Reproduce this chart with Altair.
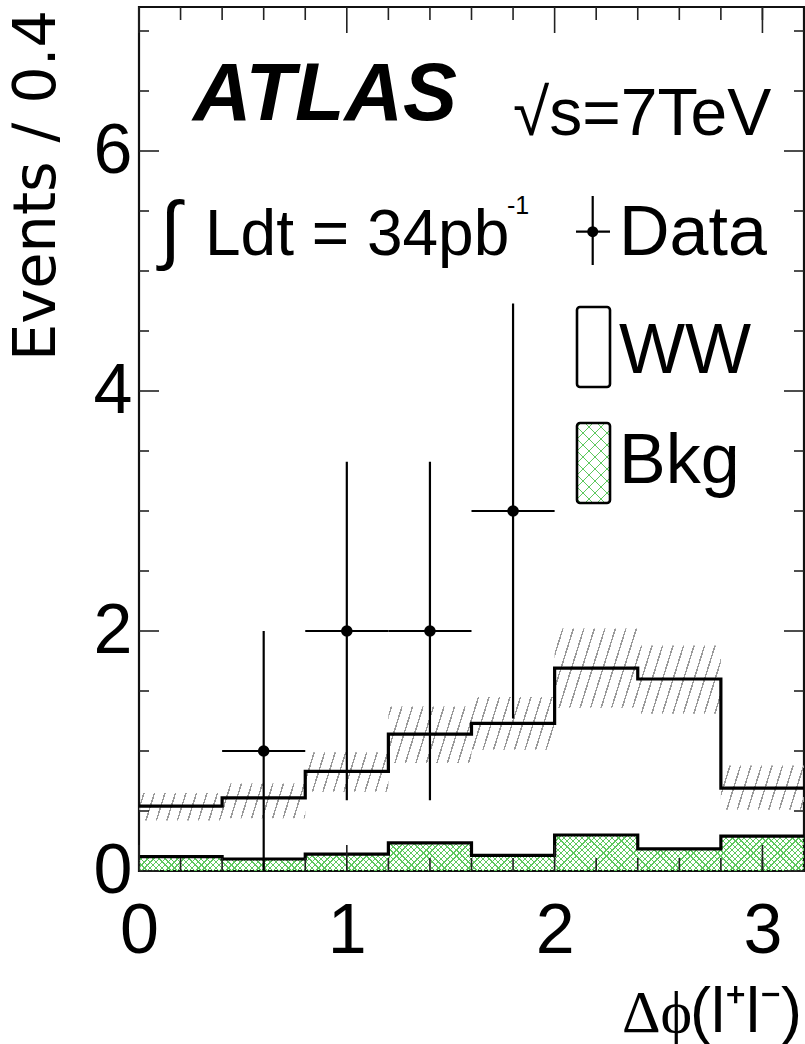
import math
import altair as alt
import pandas as pd

# ---------------- data ----------------
bin_edges = [0.0, 0.4, 0.8, 1.2, 1.6, 2.0, 2.4, 2.8, 3.2]
ww_total = [0.54, 0.61, 0.83, 1.14, 1.23, 1.69, 1.60, 0.69]   # WW + Bkg (stacked)
bkg = [0.12, 0.10, 0.14, 0.235, 0.13, 0.30, 0.185, 0.29]
band_lo = [0.42, 0.44, 0.66, 0.90, 1.01, 1.36, 1.31, 0.51]
band_hi = [0.65, 0.73, 0.99, 1.37, 1.45, 2.02, 1.88, 0.88]

data_x = [0.6, 1.0, 1.4, 1.8]
data_y = [1, 2, 2, 3]
data_err = [1.0, 1.41, 1.41, 1.73]
data_xerr = [0.2, 0.2, 0.2, 0.2]

x_major_ticks = [0, 1, 2, 3]
x_minor_ticks = [0.2, 0.4, 0.6, 0.8, 1.2, 1.4, 1.6, 1.8, 2.2, 2.4, 2.6, 2.8, 3.0]
y_major_ticks = [0, 2, 4, 6]
y_minor_ticks = [0.5, 1, 1.5, 2.5, 3, 3.5, 4.5, 5, 5.5, 6.5, 7]

X_DOMAIN = [0, 3.2]
Y_DOMAIN = [0, 7.2]

# ---------------- layout ----------------
W, H = 665, 864
PAD_L, PAD_T = 139, 7
XS = W / (X_DOMAIN[1] - X_DOMAIN[0])
YS = H / (Y_DOMAIN[1] - Y_DOMAIN[0])
FONT = "Liberation Sans, Arial, Helvetica, sans-serif"


def hatch_gradient(w, h, s, p, lw, color, flip=False, phase=0.3):
    """Stripe gradient in objectBoundingBox units giving lines of pixel slope s."""
    span = s * w + h
    n = span / (s * p)
    per = 1.0 / n
    frac = lw / p
    clear = "rgba(255,255,255,0)"
    stops = [alt.GradientStop(color=clear, offset=0)]
    i = 0
    while True:
        a = (phase + i) * per
        if a >= 1:
            break
        b = min(a + frac * per, 1.0)
        stops += [
            alt.GradientStop(color=clear, offset=round(a, 6)),
            alt.GradientStop(color=color, offset=round(a, 6)),
            alt.GradientStop(color=color, offset=round(b, 6)),
            alt.GradientStop(color=clear, offset=round(b, 6)),
        ]
        i += 1
    stops.append(alt.GradientStop(color=clear, offset=1))
    k = span / (s * s * w * w + h * h)
    gx, gy = k * s * w, k * h
    if flip:
        return alt.LinearGradient(gradient="linear", stops=stops, x1=0, y1=1, x2=gx, y2=1 - gy)
    return alt.LinearGradient(gradient="linear", stops=stops, x1=0, y1=0, x2=gx, y2=gy)


X_AX = alt.Axis(values=x_major_ticks, ticks=False, domain=False, grid=False, title=None,
                labelFontSize=70, labelFont=FONT, labelColor="black", labelPadding=26,
                labelFlush=False, labelOverlap=False)
Y_AX = alt.Axis(values=y_major_ticks, ticks=False, domain=False, grid=False, title=None,
                labelFontSize=70, labelFont=FONT, labelColor="black", labelPadding=7,
                labelOverlap=False)
XSC = alt.Scale(domain=X_DOMAIN, nice=False, zero=False)
YSC = alt.Scale(domain=Y_DOMAIN, nice=False, zero=False)


def X(f):
    return alt.X(f"{f}:Q", scale=XSC, axis=X_AX)


def Y(f):
    return alt.Y(f"{f}:Q", scale=YSC, axis=Y_AX)


step = pd.DataFrame({
    "x": bin_edges,
    "ww": ww_total + [ww_total[-1]],
    "bkg": bkg + [bkg[-1]],
    "lo": band_lo + [band_lo[-1]],
    "hi": band_hi + [band_hi[-1]],
    "zero": [0.0] * len(bin_edges),
})

pts = pd.DataFrame({"x": data_x, "y": data_y, "e": data_err, "xe": data_xerr})
pts["ylo"] = pts["y"] - pts["e"]
pts["yhi"] = pts["y"] + pts["e"]
pts["xlo"] = pts["x"] - pts["xe"]
pts["xhi"] = pts["x"] + pts["xe"]

base = alt.Chart(step)

# background crosshatch (two stripe families)
bkg_h = max(bkg) * YS
GREEN = "#5ec85e"
bkg_fill1 = base.mark_area(interpolate="step-after",
                           fill=hatch_gradient(W, bkg_h, 1.0, 6.0, 1.2, GREEN)).encode(
    x=X("x"), y=Y("bkg"), y2="zero")
bkg_fill2 = base.mark_area(interpolate="step-after",
                           fill=hatch_gradient(W, bkg_h, 1.0, 6.0, 1.2, GREEN, flip=True)).encode(
    x=X("x"), y=Y("bkg"), y2="zero")

# uncertainty band, grey "///" hatching
band_h = (max(band_hi) - min(band_lo)) * YS
band = base.mark_area(interpolate="step-after",
                      fill=hatch_gradient(W, band_h, 3.2, 10.5, 1.5, "#9a9a9a")).encode(
    x=X("x"), y=Y("hi"), y2="lo")

ww_line = base.mark_line(interpolate="step-after", color="black", strokeWidth=3.2).encode(
    x=X("x"), y=Y("ww"))
bkg_line = base.mark_line(interpolate="step-after", color="black", strokeWidth=3.2).encode(
    x=X("x"), y=Y("bkg"))

pch = alt.Chart(pts)
err_v = pch.mark_rule(color="black", strokeWidth=2.2).encode(x=X("x"), y=Y("ylo"), y2="yhi")
err_h = pch.mark_rule(color="black", strokeWidth=2.2).encode(x=X("xlo"), x2="xhi", y=Y("y"))
dots = pch.mark_circle(color="black", opacity=1, size=135).encode(x=X("x"), y=Y("y"))

# inward ticks on all four sides
TC = "#222222"


def xticks(vals, length):
    d = alt.Chart(pd.DataFrame({"v": vals}))
    bot = d.mark_rule(color=TC, strokeWidth=1.6).encode(x=X("v"), y=alt.value(H), y2=alt.value(H - length))
    top = d.mark_rule(color=TC, strokeWidth=1.6).encode(x=X("v"), y=alt.value(0), y2=alt.value(length))
    return [bot, top]


def yticks(vals, length):
    d = alt.Chart(pd.DataFrame({"v": vals}))
    lft = d.mark_rule(color=TC, strokeWidth=1.6).encode(y=Y("v"), x=alt.value(0), x2=alt.value(length))
    rgt = d.mark_rule(color=TC, strokeWidth=1.6).encode(y=Y("v"), x=alt.value(W), x2=alt.value(W - length))
    return [lft, rgt]


ticks = xticks(x_major_ticks, 26) + xticks(x_minor_ticks, 13) + yticks(y_major_ticks, 20) + yticks(y_minor_ticks, 10)


def label(text, x, y, size, **kw):
    props = dict(font=FONT, fontSize=size, color="black", align="left", baseline="alphabetic")
    props.update(kw)
    return alt.Chart(pd.DataFrame({"t": [text]})).mark_text(**props).encode(
        x=alt.value(x - PAD_L), y=alt.value(y - PAD_T), text="t:N")


texts = [
    label("ATLAS", 193, 120, 81, fontWeight="bold", fontStyle="italic"),
    label("√s=7TeV", 513, 135, 66),
    label("∫", 160, 255, 76),
    label("Ldt = 34pb", 205, 255, 64),
    label("-1", 507, 214, 25),
    label("Data", 619, 255, 70),
    label("WW", 619, 373, 70),
    label("Bkg", 619, 483, 70),
    label("Events / 0.4", 55, 10, 59, font="DejaVu Sans, Verdana, sans-serif", angle=270, align="right"),
    label("Δϕ", 622, 1032, 60, font="Liberation Serif, Times New Roman, serif"),
    label("(l⁺l⁻)", 690, 1032, 63),
]

# legend symbols
one = alt.Chart(pd.DataFrame({"k": [0]}))
leg = [
    one.mark_rule(color="black", strokeWidth=2.2).encode(
        x=alt.value(592.7 - PAD_L), y=alt.value(196 - PAD_T), y2=alt.value(265 - PAD_T)),
    one.mark_rule(color="black", strokeWidth=2.2).encode(
        x=alt.value(576 - PAD_L), x2=alt.value(610 - PAD_L), y=alt.value(231.7 - PAD_T)),
    one.mark_circle(color="black", opacity=1, size=120).encode(
        x=alt.value(592.7 - PAD_L), y=alt.value(231.7 - PAD_T)),
    one.mark_rect(fill="white", stroke="black", strokeWidth=2.6, cornerRadius=3).encode(
        x=alt.value(577 - PAD_L), x2=alt.value(610 - PAD_L),
        y=alt.value(307 - PAD_T), y2=alt.value(387 - PAD_T)),
    one.mark_rect(fill=hatch_gradient(33, 80, 1.0, 12.0, 1.2, GREEN)).encode(
        x=alt.value(577 - PAD_L), x2=alt.value(610 - PAD_L),
        y=alt.value(423 - PAD_T), y2=alt.value(503 - PAD_T)),
    one.mark_rect(fill=hatch_gradient(33, 80, 1.0, 12.0, 1.2, GREEN, flip=True)).encode(
        x=alt.value(577 - PAD_L), x2=alt.value(610 - PAD_L),
        y=alt.value(423 - PAD_T), y2=alt.value(503 - PAD_T)),
    one.mark_rect(fillOpacity=0, fill="white", stroke="black", strokeWidth=2.6, cornerRadius=3).encode(
        x=alt.value(577 - PAD_L), x2=alt.value(610 - PAD_L),
        y=alt.value(423 - PAD_T), y2=alt.value(503 - PAD_T)),
]

chart = alt.layer(
    bkg_fill1, bkg_fill2, band, ww_line, bkg_line, *ticks, err_v, err_h, dots, *texts, *leg
).properties(
    width=W, height=H,
    autosize=alt.AutoSizeParams(type="none"),
    padding={"left": PAD_L, "top": PAD_T, "right": 1, "bottom": 1044 - PAD_T - H},
    background="white",
).configure_view(stroke="#111111", strokeWidth=2.2)

chart.save("out.html", embed_options={"renderer": "svg", "actions": False})
